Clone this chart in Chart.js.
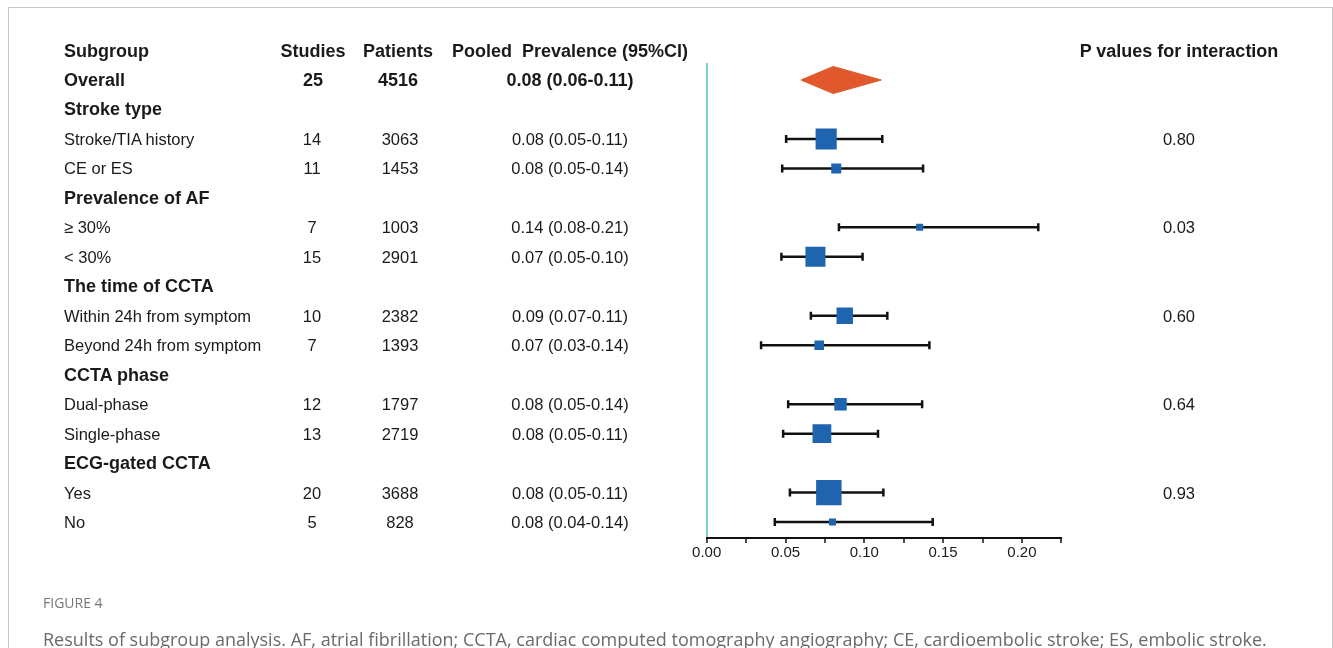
<!DOCTYPE html>
<html>
<head>
<meta charset="utf-8">
<script src="https://cdn.jsdelivr.net/npm/chart.js@4/dist/chart.umd.min.js"></script>
<style>
    html, body { margin: 0; padding: 0; background: #fff; }
    #page { position: relative; width: 1333px; height: 648px; overflow: hidden; }
    #frame { position: absolute; left: 8px; top: 7px; width: 1325px; height: 700px; border: 1px solid #c8c8c8; box-sizing: border-box; }
    #plot { position: absolute; left: 0; top: 0; width: 1333px; height: 648px; }
    #table { position: absolute; left: 0; top: 0; width: 1333px; height: 648px; pointer-events: none;
             font-family: "Liberation Sans", Arial, sans-serif; color: #1a1a1a; }
    .cell { position: absolute; white-space: nowrap; height: 20px; line-height: 20px; font-size: 16.5px; }
    .bold { font-weight: bold; font-size: 18px; }
    .mid { transform: translateX(-50%); }
    #fig { position: absolute; left: 43px; top: 593px; font-family: "Open Sans", sans-serif; font-size: 14px; color: #777; }
    #caption { position: absolute; left: 43px; top: 627px; font-family: "Open Sans", sans-serif; font-size: 18px; color: #6a6a6a; white-space: nowrap; }
</style>
</head>
<body>
<div id="page">
    <div id="frame"></div>
    <div id="plot"><canvas id="forest"></canvas></div>
    <div id="table"></div>
    <div id="fig">FIGURE 4</div>
    <div id="caption">Results of subgroup analysis. AF, atrial fibrillation; CCTA, cardiac computed tomography angiography; CE, cardioembolic stroke; ES, embolic stroke.</div>
</div>
<script>
// rows, top to bottom (Overall first)
var subgroups = ['Overall', 'Stroke type', 'Stroke/TIA history', 'CE or ES', 'Prevalence of AF', '\u2265 30%', '< 30%',
    'The time of CCTA', 'Within 24h from symptom', 'Beyond 24h from symptom', 'CCTA phase', 'Dual-phase',
    'Single-phase', 'ECG-gated CCTA', 'Yes', 'No'];
var headingRows = [0, 1, 4, 7, 10, 13];
var studies = [25, null, 14, 11, null, 7, 15, null, 10, 7, null, 12, 13, null, 20, 5];
var patients = [4516, null, 3063, 1453, null, 1003, 2901, null, 2382, 1393, null, 1797, 2719, null, 3688, 828];
var pooled = [0.0803, null, 0.0758, 0.0822, null, 0.1351, 0.0690, null, 0.0876, 0.0714, null, 0.0849, 0.0731, null, 0.0775, 0.0798];
var lower = [0.0598, null, 0.0504, 0.0479, null, 0.0839, 0.0474, null, 0.0661, 0.0345, null, 0.0517, 0.0485, null, 0.0528, 0.0432];
var upper = [0.1108, null, 0.1114, 0.1373, null, 0.2104, 0.0989, null, 0.1146, 0.1413, null, 0.1367, 0.1087, null, 0.1121, 0.1434];
var ciText = ['0.08 (0.06-0.11)', '', '0.08 (0.05-0.11)', '0.08 (0.05-0.14)', '', '0.14 (0.08-0.21)', '0.07 (0.05-0.10)',
    '', '0.09 (0.07-0.11)', '0.07 (0.03-0.14)', '', '0.08 (0.05-0.14)', '0.08 (0.05-0.11)', '', '0.08 (0.05-0.11)', '0.08 (0.04-0.14)'];
var pInteraction = ['', '', '0.80', '', '', '0.03', '', '', '0.60', '', '', '0.64', '', '', '0.93', ''];
var xTicks = [0, 0.05, 0.10, 0.15, 0.20];

var BLUE = '#1f64ae';
var ORANGE = '#e0582b';
var TEAL = '#7fcdd6';
var DIAMOND_HALF = 0.46;

document.addEventListener('DOMContentLoaded', function () {
    var datasets = [];

    // squares (size follows patient count)
    var boxPts = [], boxRad = [];
    for (var i = 1; i < subgroups.length; i++) {
        if (pooled[i] == null) continue;
        boxPts.push({ x: pooled[i], y: i });
        var side = Math.max(7, patients[i] * 0.0069);
        boxRad.push(side / (2 * Math.SQRT1_2));
    }
    datasets.push({
        type: 'scatter', data: boxPts, order: 0,
        pointStyle: 'rect', pointRadius: boxRad, pointBackgroundColor: BLUE,
        pointBorderWidth: 0, backgroundColor: BLUE, borderColor: BLUE
    });

    // confidence interval whiskers
    for (var j = 1; j < subgroups.length; j++) {
        if (pooled[j] == null) continue;
        datasets.push({
            type: 'line', order: 1,
            data: [{ x: lower[j], y: j }, { x: upper[j], y: j }],
            borderColor: '#111', borderWidth: 2.5,
            pointStyle: 'line', rotation: 90, pointRadius: 4,
            pointBorderColor: '#111', pointBorderWidth: 2.5, fill: false
        });
    }

    // overall diamond, drawn as two filled halves
    [-DIAMOND_HALF, DIAMOND_HALF].forEach(function (h) {
        datasets.push({
            type: 'line', order: 2,
            data: [{ x: lower[0], y: 0 }, { x: pooled[0], y: h }, { x: upper[0], y: 0 }],
            borderColor: ORANGE, borderWidth: 1, backgroundColor: ORANGE,
            pointRadius: 0, fill: { value: 0 }, tension: 0
        });
    });

    var chart = new Chart(document.getElementById('forest').getContext('2d'), {
        type: 'scatter',
        data: { datasets: datasets },
        options: {
            responsive: true,
            maintainAspectRatio: false,
            animation: false,
            events: [],
            layout: { padding: { left: 706.7, right: 271.7, top: 63, bottom: 0 } },
            plugins: { legend: { display: false }, tooltip: { enabled: false } },
            scales: {
                x: {
                    type: 'linear', min: 0, max: 0.225,
                    afterFit: function (scale) { scale.height = 110; },
                    border: { color: '#111', width: 2 },
                    grid: {
                        drawOnChartArea: true,
                        color: function (c) { return c.tick && c.tick.value === 0 ? TEAL : 'rgba(0,0,0,0)'; },
                        lineWidth: 2,
                        tickColor: '#111', tickLength: 5, tickWidth: 1.5
                    },
                    ticks: {
                        stepSize: 0.025, padding: 1, color: '#1a1a1a', maxRotation: 0, autoSkip: false,
                        font: { family: '"Liberation Sans", Arial, sans-serif', size: 15 },
                        callback: function (v) {
                            for (var k = 0; k < xTicks.length; k++) {
                                if (Math.abs(v - xTicks[k]) < 1e-6) return xTicks[k].toFixed(2);
                            }
                            return '';
                        }
                    }
                },
                y: { type: 'linear', min: -0.577, max: 15.54, reverse: true, display: false }
            }
        }
    });

    // table text, placed on the chart's row scale
    var table = document.getElementById('table');
    var yScale = chart.scales.y;
    function cell(text, x, row, bold, centered) {
        if (text === '' || text == null) return;
        var d = document.createElement('div');
        d.className = 'cell' + (bold ? ' bold' : '') + (centered ? ' mid' : '');
        d.textContent = text;
        d.style.left = x + 'px';
        d.style.top = (yScale.getPixelForValue(row) - 10) + 'px';
        table.appendChild(d);
    }
    cell('Subgroup', 64, -1, true, false);
    cell('Studies', 313, -1, true, true);
    cell('Patients', 398, -1, true, true);
    cell('Pooled\u00a0 Prevalence (95%CI)', 570, -1, true, true);
    cell('P values for interaction', 1179, -1, true, true);
    for (var r = 0; r < subgroups.length; r++) {
        var bold = r === 0 || headingRows.indexOf(r) >= 0;
        cell(subgroups[r], 64, r, bold, false);
        if (r === 0) {
            cell(String(studies[r]), 313, r, true, true);
            cell(String(patients[r]), 398, r, true, true);
            cell(ciText[r], 570, r, true, true);
        } else {
            if (studies[r] != null) cell(String(studies[r]), 312, r, false, true);
            if (patients[r] != null) cell(String(patients[r]), 400, r, false, true);
            cell(ciText[r], 570, r, false, true);
        }
        cell(pInteraction[r], 1179, r, false, true);
    }
});
</script>
</body>
</html>
